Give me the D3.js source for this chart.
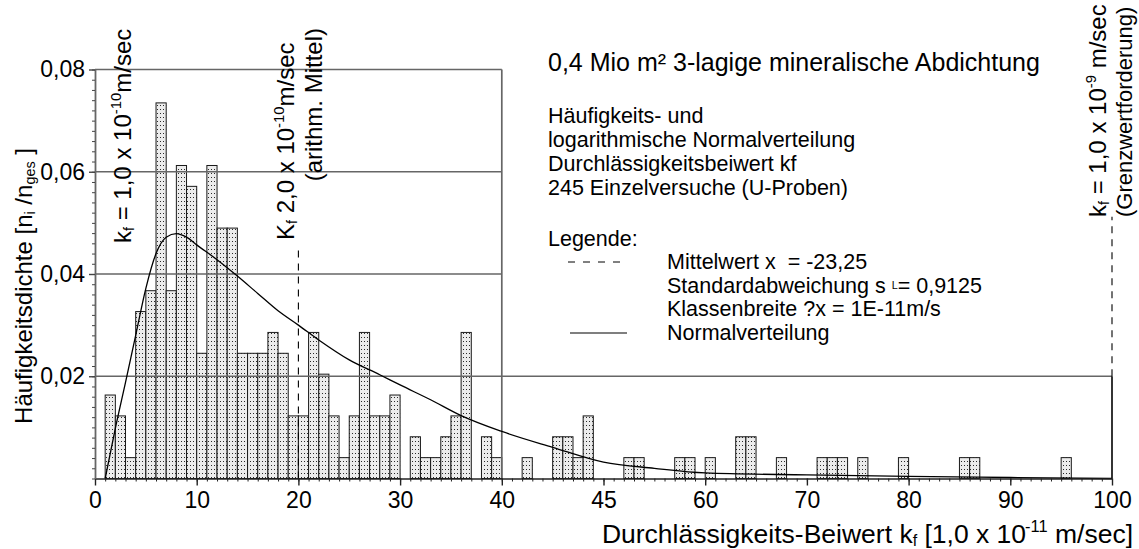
<!DOCTYPE html>
<html>
<head>
<meta charset="utf-8">
<script src="https://cdn.jsdelivr.net/npm/d3@7"></script>
<style>
  html, body { margin: 0; padding: 0; background: #fff; }
  svg text { font-family: "Liberation Sans", Arial, Helvetica, sans-serif; fill: #000; white-space: pre; }
</style>
</head>
<body>
<svg id="chart" width="1139" height="549"></svg>
<script>
// Frequency of permeability classes (class width 1 x 10^-11 m/s), 245 samples
const sampleCount = 245;
const classLower = [1,2,3,4,5,6,7,8,9,10,11,12,13,14,15,16,17,18,19,20,21,22,23,24,25,26,27,28,29,
                    31,32,33,34,35,36,38,39,42,45,46,47,48,52,53,57,58,60,63,64,67,71,72,73,75,79,85,86,95];
const classCount = [4,3,1,8,9,18,9,15,14,6,15,12,12,6,6,6,7,6,3,3,7,5,3,1,3,7,3,3,4,
                    2,1,1,2,3,7,2,1,1,2,2,1,3,1,1,1,1,1,2,2,1,1,1,1,1,1,1,1,1];

// Fitted (log-normal) distribution curve
const curveX = [1,2,3,4,5,6,7,8,9,10,12,14,16,18,20,22,25,28,30,33,36,40,45,50,55,60,70,80,90,100];
const curveY = [0,0.0098,0.0188,0.0280,0.0372,0.0440,0.0472,0.0479,0.0472,0.0457,0.0428,0.0396,0.0362,
                0.0328,0.0300,0.0271,0.0232,0.0203,0.0183,0.0154,0.0123,0.0092,0.0061,0.0032,0.0020,
                0.0011,0.0007,0.0004,0.0002,0];

// Axis ticks
const xTickValues = [0,10,20,30,40,50,60,70,80,90,100];
const xTickLabels = ["0","10","20","30","40","45","60","70","80","90","100"];
const yTickValues = [0.02,0.04,0.06,0.08];
const yTickLabels = ["0,02","0,04","0,06","0,08"];

// Reference values (in 10^-11 m/s)
const meanKf = 20;
const limitKf = 100;
const innerBoxRight = 40;

const svg = d3.select("#chart");
const x = d3.scaleLinear().domain([0, 100]).range([95, 1112]);
const y = d3.scaleLinear().domain([0, 0.08]).range([478.5, 69.5]);

// stipple fill for the histogram bars
const defs = svg.append("defs");
const pat = defs.append("pattern").attr("id", "stipple")
  .attr("patternUnits", "userSpaceOnUse").attr("width", 3).attr("height", 4);
pat.append("rect").attr("width", 3).attr("height", 4).attr("fill", "#ececec");
pat.append("rect").attr("x", 1).attr("y", 1).attr("width", 1).attr("height", 1).attr("fill", "#2a2a2a");

// histogram
const bars = classLower.map((d, i) => ({ lo: d, v: classCount[i] / sampleCount }));
svg.append("g").selectAll("rect").data(bars).join("rect")
  .attr("x", d => x(d.lo))
  .attr("y", d => y(d.v))
  .attr("width", d => x(d.lo + 1) - x(d.lo))
  .attr("height", d => y(0) - y(d.v))
  .attr("fill", "url(#stipple)")
  .attr("stroke", "#1a1a1a").attr("stroke-width", 1);

// frame and grid lines
const grid = svg.append("g").attr("stroke", "#666").attr("stroke-width", 1.7);
[0.04, 0.06, 0.08].forEach(v => grid.append("line")
  .attr("x1", x(0)).attr("x2", x(innerBoxRight)).attr("y1", y(v)).attr("y2", y(v)));
grid.append("line").attr("x1", x(0)).attr("x2", x(100)).attr("y1", y(0.02)).attr("y2", y(0.02));
grid.append("line").attr("x1", x(innerBoxRight)).attr("x2", x(innerBoxRight)).attr("y1", y(0)).attr("y2", y(0.08));
grid.append("line").attr("x1", x(limitKf)).attr("x2", x(limitKf)).attr("y1", y(0)).attr("y2", y(0.02))
  .attr("stroke", "#111");

// reference lines (dashed)
const dash = svg.append("g").attr("stroke", "#000").attr("stroke-width", 1.1).attr("stroke-dasharray", "7,6");
dash.append("line").attr("x1", x(meanKf)).attr("x2", x(meanKf)).attr("y1", y(0)).attr("y2", y(0.0455));
dash.append("line").attr("x1", x(limitKf)).attr("x2", x(limitKf)).attr("y1", y(0.02)).attr("y2", y(0.0512));

// distribution curve
const line = d3.line().x((d, i) => x(curveX[i])).y(d => y(d)).curve(d3.curveMonotoneX);
svg.append("path").attr("d", line(curveY)).attr("fill", "none").attr("stroke", "#000").attr("stroke-width", 1.3);

// axes
const xMinor = d3.axisBottom(x).tickValues(d3.range(0, 101, 1)).tickSize(3).tickFormat("").tickSizeOuter(0);
svg.append("g").attr("transform", `translate(0,${y(0)})`).call(xMinor)
  .call(g => g.selectAll("line").attr("stroke", "#222"))
  .call(g => g.select(".domain").attr("stroke", "#222").attr("stroke-width", 1.5));
const xMajor = d3.axisBottom(x).tickValues(xTickValues).tickFormat((d, i) => xTickLabels[i])
  .tickSize(7).tickPadding(6).tickSizeOuter(0);
svg.append("g").attr("transform", `translate(0,${y(0)})`).call(xMajor)
  .call(g => g.select(".domain").remove())
  .call(g => g.selectAll("line").attr("stroke", "#222").attr("stroke-width", 1.4))
  .call(g => g.selectAll("text").attr("font-size", 23).attr("font-family", "Liberation Sans, Arial, sans-serif"));

const yMinor = d3.axisLeft(y).tickValues(d3.range(0, 0.0801, 0.002)).tickSize(3).tickFormat("").tickSizeOuter(0);
svg.append("g").attr("transform", `translate(${x(0)},0)`).call(yMinor)
  .call(g => g.selectAll("line").attr("stroke", "#444"))
  .call(g => g.select(".domain").attr("stroke", "#666").attr("stroke-width", 1.8));
const yMajor = d3.axisLeft(y).tickValues(yTickValues).tickFormat((d, i) => yTickLabels[i])
  .tickSize(6).tickPadding(4).tickSizeOuter(0);
svg.append("g").attr("transform", `translate(${x(0)},0)`).call(yMajor)
  .call(g => g.select(".domain").remove())
  .call(g => g.selectAll("line").attr("stroke", "#444").attr("stroke-width", 1.4))
  .call(g => g.selectAll("text").attr("font-size", 23).attr("font-family", "Liberation Sans, Arial, sans-serif"));

// text with sub/superscripts
function rich(g, tx, ty, rot, base, parts, anchor) {
  const t = g.append("text")
    .attr("transform", `translate(${tx},${ty})` + (rot ? ` rotate(${rot})` : ""))
    .attr("font-size", base).attr("text-anchor", anchor || "start");
  let shift = 0;
  parts.forEach(p => {
    const [s, kind, dx] = p;
    let target = 0, size = base;
    if (kind === "sup") { target = -0.42 * base; size = 0.62 * base; }
    else if (kind === "sub") { target = 0.12 * base; size = 0.6 * base; }
    else if (kind === "mark") { target = -0.2 * base; size = 0.5 * base; }
    const ts = t.append("tspan").attr("dy", target - shift).attr("font-size", size).text(s);
    if (dx) ts.attr("dx", dx);
    shift = target;
  });
  return t;
}

const ann = svg.append("g");
rich(ann, 131, 243, -90, 24, [["k"], ["f", "sub"], [" = 1,0 x 10"], ["-10", "sup"], ["m/sec"]]);
rich(ann, 294, 240, -90, 24, [["K"], ["f", "sub"], [" 2,0 x 10"], ["-10", "sup"], ["m/sec"]]);
rich(ann, 322, 28, -90, 24, [["(arithm. Mittel)"]], "end");
rich(ann, 1106, 217, -90, 24, [["k"], ["f", "sub"], [" = 1,0 x 10"], ["-9", "sup"], [" m/sec"]]);
rich(ann, 1132, 217, -90, 22, [["(Grenzwertforderung)"]]);

// axis titles
rich(ann, 32, 286, -90, 24, [["Häufigkeitsdichte [n"], ["i", "sub"], [" /n"], ["ges", "sub"], [" ]"]], "middle");
rich(ann, 1133, 543, 0, 26.5, [["Durchlässigkeits-Beiwert k"], ["f", "sub"], [" [1,0 x 10"], ["-11", "sup", -1], [" m/sec]"]], "end");

// title and description block
const info = svg.append("g");
rich(info, 548, 71, 0, 25, [["0,4 Mio m² 3-lagige mineralische Abdichtung"]]);
const descLines = ["Häufigkeits- und", "logarithmische Normalverteilung",
                   "Durchlässigkeitsbeiwert kf", "245 Einzelversuche (U-Proben)"];
descLines.forEach((s, i) => rich(info, 548, 123 + i * 24, 0, 21.5, [[s]]));
rich(info, 548, 246, 0, 21.5, [["Legende:"]]);
rich(info, 667, 269, 0, 21.5, [["Mittelwert x  = -23,25"]]);
rich(info, 667, 293, 0, 21.5, [["Standardabweichung s "], ["L", "mark"], ["= 0,9125"]]);
rich(info, 667, 316, 0, 21.5, [["Klassenbreite ?x = 1E-11m/s"]]);
rich(info, 667, 340, 0, 21.5, [["Normalverteilung"]]);

// legend symbols
info.append("line").attr("x1", 568).attr("x2", 622).attr("y1", 262).attr("y2", 262)
  .attr("stroke", "#000").attr("stroke-width", 1).attr("stroke-dasharray", "7,8");
info.append("line").attr("x1", 570).attr("x2", 627).attr("y1", 333).attr("y2", 333)
  .attr("stroke", "#000").attr("stroke-width", 1.2);
</script>
</body>
</html>
